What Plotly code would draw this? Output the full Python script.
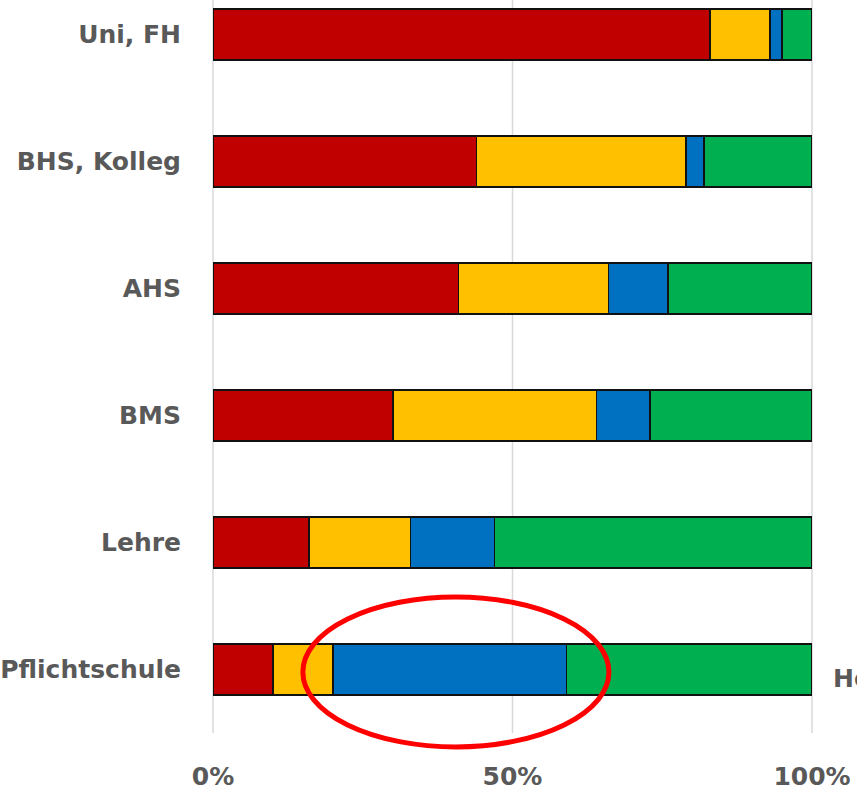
import plotly.graph_objects as go

# Education levels, bottom to top
categories = ["Pflichtschule", "Lehre", "BMS", "AHS", "BHS, Kolleg", "Uni, FH"]

# Shares per level (percent), stacked left to right
red_share = [10, 16, 30, 41, 44, 83]
yellow_share = [10, 17, 34, 25, 35, 10]
blue_share = [39, 14, 9, 10, 3, 2]
green_share = [41, 53, 27, 24, 18, 5]

series = [
    ("Rot", red_share, "#C00000"),
    ("Gelb", yellow_share, "#FFC000"),
    ("Blau", blue_share, "#0070C0"),
    ("Grün", green_share, "#00B050"),
]

tick_values = [0, 50, 100]
tick_labels = ["0%", "50%", "100%"]
X_MAX = 100

FONT = "'DejaVu Sans', Lato, sans-serif"
GREY = "#595959"

fig = go.Figure()

# Vertical gridlines at each tick (paper coordinates so edge lines are not clipped)
for tv in tick_values:
    fig.add_shape(
        type="line", xref="paper", yref="paper",
        x0=tv / X_MAX, x1=tv / X_MAX, y0=0, y1=1,
        line=dict(color="#D9D9D9", width=1.5),
        layer="below",
    )

for name, vals, color in series:
    fig.add_trace(go.Bar(
        y=categories,
        x=vals,
        name=name,
        orientation="h",
        marker=dict(color=color, line=dict(color="#111111", width=1.6)),
        hoverinfo="skip",
    ))

fig.update_layout(
    barmode="stack",
    bargap=0.6,
    showlegend=False,
    width=857,
    height=791,
    margin=dict(l=213, r=45, t=0, b=58),
    paper_bgcolor="white",
    plot_bgcolor="white",
    font=dict(family=FONT, size=25, color=GREY),
    xaxis=dict(
        range=[0, X_MAX],
        tickvals=tick_values,
        ticktext=tick_labels,
        showgrid=False,
        zeroline=False,
        showline=False,
        ticks="",
        tickfont=dict(family=FONT, size=25, color=GREY, weight="bold"),
        ticklabelstandoff=26,
        fixedrange=True,
    ),
    yaxis=dict(
        type="category",
        categoryorder="array",
        categoryarray=categories,
        range=[-0.5, 5.272],
        showgrid=False,
        zeroline=False,
        showline=False,
        ticks="",
        tickfont=dict(family=FONT, size=25, color=GREY, weight="bold"),
        ticklabelstandoff=31,
        fixedrange=True,
    ),
)

# Highlight ring around the Pflichtschule blue segment
fig.add_shape(
    type="circle",
    xref="paper", yref="paper",
    x0=0.150, x1=0.661,
    y0=-0.019, y1=0.1855,
    line=dict(color="#FF0000", width=5),
    layer="above",
)

fig.add_annotation(
    text="<b>Hoch</b>",
    xref="paper", yref="paper",
    x=1.032, y=0.075,
    xanchor="left", yanchor="middle",
    showarrow=False,
    font=dict(family=FONT, size=25, color=GREY),
)

fig.write_html("out.html")
